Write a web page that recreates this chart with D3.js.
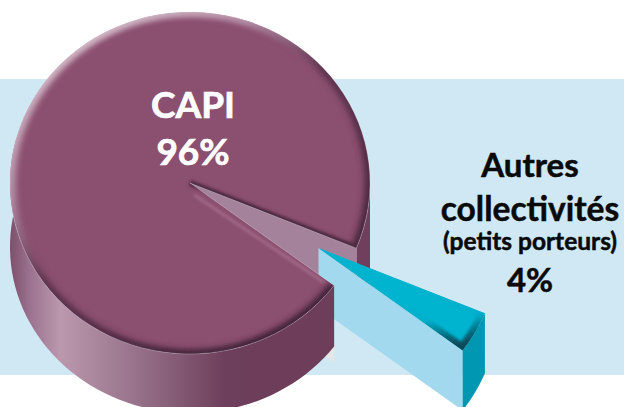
<!DOCTYPE html>
<html>
<head>
<meta charset="utf-8">
<script src="https://cdn.jsdelivr.net/npm/d3@7"></script>
<style>
    html, body { margin: 0; padding: 0; background: #fff; }
    svg { display: block; font-family: Lato, "Liberation Sans", sans-serif; font-weight: 700; }
</style>
</head>
<body>
<svg id="chart" width="624" height="407"></svg>
<script>
const categories = ["CAPI", "Autres collectivités"];
const values = [96, 4];
const capiLabel = ["CAPI", "96%"];
const autresLabel = ["Autres", "collectivités", "(petits porteurs)", "4%"];

const W = 624, H = 407;
const cx = 190, cy = 183, R = 180, squash = 171 / 180, depth = 60;
const offX = 128.5, offY = 65;
const rad = deg => deg * Math.PI / 180;

const SVG = d3.select("#chart");
const defs = SVG.append("defs");

function gradient(id, coords, stops) {
    let g = defs.append("linearGradient").attr("id", id);
    Object.keys(coords).forEach(k => g.attr(k, coords[k]));
    stops.forEach(s => g.append("stop").attr("offset", s[0]).attr("stop-color", s[1]));
}

// wall shading runs left to right across the cylinder, coordinates are relative to the pie centre
gradient("wallFront", {gradientUnits: "userSpaceOnUse", x1: -R, x2: 72, y1: 0, y2: 0}, [
    [0, "#7d4f6b"], [0.08, "#9b7390"], [0.2, "#bb98ad"], [0.5, "#97728a"], [0.85, "#6e3f5c"], [1, "#6d3d5a"]
]);
gradient("rim", {x1: 0.1, y1: 0, x2: 0.85, y2: 0.95}, [
    [0, "#e2d0da"], [0.3, "#b58ea6"], [0.5, "#5f3450"], [1, "#3f2136"]
]);
gradient("rimBlue", {gradientUnits: "userSpaceOnUse", x1: 130, y1: 30, x2: 140, y2: 100}, [
    [0, "#00b4d0"], [0.6, "#00b0cc"], [1, "#084c5c"]
]);

defs.append("filter").attr("id", "soft").attr("x", "-10%").attr("y", "-10%")
    .attr("width", "120%").attr("height", "120%")
    .append("feGaussianBlur").attr("stdDeviation", 3);
defs.append("filter").attr("id", "softSmall")
    .attr("filterUnits", "userSpaceOnUse").attr("x", -W).attr("y", -H).attr("width", 2 * W).attr("height", 2 * H)
    .append("feGaussianBlur").attr("stdDeviation", 1.4);

let pie = d3.pie().sort(null).value(d => d).startAngle(rad(126.8)).endAngle(rad(126.8 + 360));
let [capi, autres] = pie(values);
// small slice sits between the end of CAPI and its start, bring it back under 360
let a0 = capi.endAngle - 2 * Math.PI, a1 = capi.startAngle;

let arc = d3.arc().innerRadius(0).outerRadius(R);
let px = a => R * Math.sin(a);
let py = a => -R * squash * Math.cos(a);

// outer wall between two angles, closed band down to a bottom ellipse
function wall(from, to, bottomCy, bottomRy) {
    let top = d3.range(0, 61).map(i => from + (to - from) * i / 60);
    let pts = top.map(a => [px(a), py(a)])
        .concat(top.slice().reverse().map(a => [px(a), bottomCy - bottomRy * Math.cos(a)]));
    return d3.line()(pts) + "Z";
}

// flat wall going from the centre to the rim
function radial(a) {
    return d3.line()([[0, 0], [px(a), py(a)], [px(a), py(a) + depth], [0, depth]]) + "Z";
}

SVG.append("rect").attr("x", 0).attr("y", 79).attr("width", W).attr("height", 296).attr("fill", "#cfe8f4");

// back of the gap
let backG = SVG.append("g").attr("transform", `translate(${cx},${cy})`);
backG.append("path").attr("d", wall(rad(90), a0, 86, R * squash)).attr("fill", "#6f3f5d");
backG.append("path").attr("d", radial(a0)).attr("fill", "#a5829b");

// exploded slice
let slice = SVG.append("g").attr("transform", `translate(${cx + offX},${cy + offY})`);
slice.append("path").attr("d", radial(a1)).attr("fill", "#a2d9ee");
slice.append("path").attr("d", wall(a0, a1, depth, R * squash)).attr("fill", "#0097b2");

defs.append("clipPath").attr("id", "clipSlice").append("path")
    .attr("d", arc({startAngle: a0, endAngle: a1}))
    .attr("transform", `scale(1,${squash})`);
let sliceTop = slice.append("g").attr("clip-path", "url(#clipSlice)");
sliceTop.append("path")
    .attr("d", arc({startAngle: a0, endAngle: a1}))
    .attr("transform", `scale(1,${squash})`)
    .attr("fill", "#00b4d0");
sliceTop.append("path")
    .attr("d", arc({startAngle: a0, endAngle: a1}))
    .attr("fill", "none").attr("stroke", "url(#rimBlue)").attr("stroke-width", 13)
    .attr("transform", `scale(1,${squash})`)
    .attr("filter", "url(#softSmall)");

// everything in front of the slice
let frontG = SVG.append("g").attr("transform", `translate(${cx},${cy})`);

// grey sliver under the front wall
frontG.append("path")
    .attr("d", d3.line()([[px(a1), py(a1) + depth - 2], [px(a1), py(a1) + depth + 17], [px(a1) - 8, py(a1) + depth + 11]]) + "Z")
    .attr("fill", "#e4e6e8");

frontG.append("path").attr("d", wall(a1, rad(285), 64, 166)).attr("fill", "url(#wallFront)");

// top of the pie
defs.append("clipPath").attr("id", "clipTop").append("path")
    .attr("d", arc(capi))
    .attr("transform", `scale(1,${squash})`);
let topG = frontG.append("g").attr("clip-path", "url(#clipTop)");
topG.append("path").attr("d", arc(capi)).attr("transform", `scale(1,${squash})`).attr("fill", "#8b4f6f");
topG.append("path").attr("d", d3.arc().innerRadius(R).outerRadius(R).startAngle(a1).endAngle(a0 + 2 * Math.PI)())
    .attr("transform", `scale(1,${squash})`)
    .attr("fill", "none").attr("stroke", "url(#rim)").attr("stroke-width", 11)
    .attr("filter", "url(#soft)");
// dark along the upper edge of the gap, light along the lower one
topG.append("line")
    .attr("x1", 0).attr("y1", 0).attr("x2", px(a0)).attr("y2", py(a0))
    .attr("stroke", "#4a2740").attr("stroke-width", 6).attr("filter", "url(#softSmall)");
topG.append("line")
    .attr("x1", px(a1) * 0.03).attr("y1", py(a1) * 0.03 + 9).attr("x2", px(a1) * 0.93).attr("y2", py(a1) * 0.93 + 4)
    .attr("stroke", "#a8708f").attr("stroke-width", 2.4).attr("filter", "url(#softSmall)");

frontG.append("path").attr("d", arc(capi)).attr("transform", `scale(1,${squash})`)
    .attr("fill", "none").attr("stroke", "#e8dbe3").attr("stroke-width", 0.5).attr("stroke-opacity", 0.6);

// labels
SVG.append("g").selectAll("text").data(capiLabel).enter().append("text")
    .attr("x", 193).attr("y", (d, i) => 118 + i * 47)
    .attr("text-anchor", "middle").attr("fill", "#fff").attr("font-size", 37)
    .attr("stroke", "#fff").attr("stroke-width", 0.7)
    .text(d => d);

let autresY = [177, 221, 250, 292];
let autresSize = [33, 33.5, 24.5, 33];
SVG.append("g").selectAll("text").data(autresLabel).enter().append("text")
    .attr("x", 530).attr("y", (d, i) => autresY[i])
    .attr("text-anchor", "middle").attr("fill", "#0a0a0a").attr("font-size", (d, i) => autresSize[i])
    .attr("stroke", "#0a0a0a").attr("stroke-width", 0.5)
    .text(d => d);
</script>
</body>
</html>
